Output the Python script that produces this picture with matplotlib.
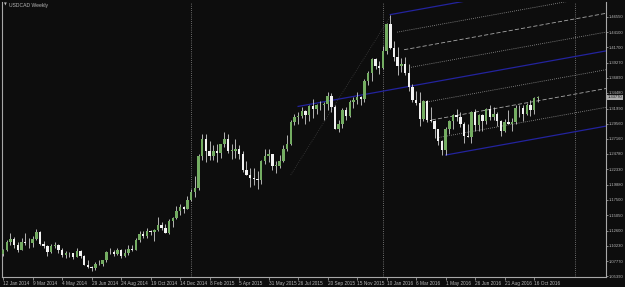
import numpy as np
import matplotlib
matplotlib.use("Agg")
import matplotlib.pyplot as plt
from matplotlib.transforms import blended_transform_factory

plt.rcParams['font.family'] = ['Liberation Sans', 'DejaVu Sans']

# USDCAD weekly candles, week 0 = 12 Jan 2014
first_open = 1.0890
closes = [1.0960, 1.1080, 1.1135, 1.1035, 1.0960, 1.1080, 1.1070, 1.1060, 1.1130, 1.1235,
          1.1045, 1.1020, 1.0920, 1.1020, 1.1030, 1.0950, 1.0870, 1.0900, 1.0900, 1.0850,
          1.0930, 1.0860, 1.0720, 1.0680, 1.0670, 1.0730, 1.0730, 1.0790, 1.0920, 1.0920,
          1.0890, 1.0950, 1.0860, 1.0900, 1.0970, 1.0960, 1.1110, 1.1210, 1.1180, 1.1260,
          1.1240, 1.1270, 1.1350, 1.1300, 1.1230, 1.1420, 1.1460, 1.1570, 1.1630, 1.1610,
          1.1750,
          1.1870, 1.1940, 1.2440, 1.2720, 1.2520, 1.2440, 1.2530, 1.2500, 1.2630, 1.2720,
          1.2530, 1.2530, 1.2560, 1.2480, 1.2220, 1.2150, 1.2090, 1.2080, 1.2060, 1.2370,
          1.2440, 1.2470, 1.2290, 1.2290, 1.2360, 1.2560, 1.2640, 1.2980, 1.3070, 1.3080,
          1.3160, 1.3100, 1.3240, 1.3190, 1.3250, 1.3250, 1.3270, 1.3400, 1.3230, 1.2880,
          1.2960, 1.3170, 1.3080, 1.3300, 1.3340, 1.3380, 1.3350, 1.3640, 1.3770, 1.3980,
          1.3870, 1.3840, 1.4120, 1.4540, 1.4160, 1.4010, 1.3870, 1.3900, 1.3770, 1.3540,
          1.3330, 1.3290, 1.3040, 1.3320, 1.3010, 1.3000, 1.2870, 1.2690, 1.2540, 1.2880,
          1.3000, 1.3100, 1.3070, 1.2960, 1.2770, 1.2750, 1.3140, 1.2930, 1.3090, 1.3000,
          1.3190, 1.3060, 1.3120, 1.3000, 1.2850, 1.2990, 1.2960, 1.2980, 1.3200, 1.3200,
          1.3120, 1.3260, 1.3170, 1.3360, 1.3377]
highs = [1.0970, 1.1120, 1.1225, 1.1160, 1.1080, 1.1150, 1.1225, 1.1145, 1.1180, 1.1280,
         1.1250, 1.1100, 1.1030, 1.1050, 1.1080, 1.1050, 1.0990, 1.0930, 1.0920, 1.0910,
         1.0990, 1.0960, 1.0880, 1.0790, 1.0700, 1.0760, 1.0800, 1.0800, 1.0930, 1.0990,
         1.0950, 1.0990, 1.0970, 1.0970, 1.1040, 1.1030, 1.1150, 1.1250, 1.1260, 1.1300,
         1.1270, 1.1290, 1.1470, 1.1400, 1.1360, 1.1440, 1.1470, 1.1650, 1.1680, 1.1650,
         1.1810,
         1.1920, 1.2130, 1.2480, 1.2800, 1.2800, 1.2690, 1.2620, 1.2630, 1.2640, 1.2830,
         1.2790, 1.2630, 1.2720, 1.2620, 1.2520, 1.2370, 1.2250, 1.2250, 1.2210, 1.2390,
         1.2560, 1.2560, 1.2480, 1.2370, 1.2460, 1.2620, 1.2780, 1.3010, 1.3120, 1.3140,
         1.3220, 1.3180, 1.3260, 1.3350, 1.3270, 1.3320, 1.3300, 1.3460, 1.3450, 1.3250,
         1.3020, 1.3200, 1.3230, 1.3330, 1.3380, 1.3460, 1.3400, 1.3660, 1.3800, 1.4000,
         1.4000, 1.3960, 1.4190, 1.4550, 1.4690, 1.4270, 1.4170, 1.4000, 1.4010, 1.3900,
         1.3590, 1.3470, 1.3460, 1.3340, 1.3330, 1.3220, 1.3020, 1.2880, 1.2700, 1.2910,
         1.3020, 1.3110, 1.3190, 1.3140, 1.2980, 1.2960, 1.3160, 1.3190, 1.3110, 1.3110,
         1.3210, 1.3250, 1.3230, 1.3150, 1.3010, 1.3030, 1.3180, 1.3050, 1.3250, 1.3250,
         1.3250, 1.3290, 1.3330, 1.3390, 1.3400]
lows = [1.0860, 1.0940, 1.1040, 1.0990, 1.0920, 1.0950, 1.1030, 1.0990, 1.1000, 1.1120,
        1.1030, 1.0990, 1.0860, 1.0900, 1.0990, 1.0910, 1.0850, 1.0820, 1.0850, 1.0810,
        1.0840, 1.0830, 1.0710, 1.0660, 1.0620, 1.0630, 1.0710, 1.0700, 1.0770, 1.0890,
        1.0860, 1.0880, 1.0830, 1.0840, 1.0880, 1.0930, 1.0950, 1.1080, 1.1140, 1.1150,
        1.1190, 1.1100, 1.1250, 1.1270, 1.1220, 1.1200, 1.1320, 1.1440, 1.1510, 1.1540,
        1.1600,
        1.1730, 1.1800, 1.1910, 1.2380, 1.2350, 1.2390, 1.2380, 1.2350, 1.2410, 1.2590,
        1.2490, 1.2400, 1.2420, 1.2400, 1.2190, 1.2140, 1.1950, 1.1990, 1.1920, 1.2000,
        1.2320, 1.2350, 1.2220, 1.2170, 1.2250, 1.2350, 1.2520, 1.2620, 1.2930, 1.2950,
        1.3050, 1.2950, 1.3000, 1.3050, 1.3110, 1.3170, 1.3020, 1.3170, 1.3140, 1.2870,
        1.2830, 1.2890, 1.3020, 1.3060, 1.3210, 1.3270, 1.3250, 1.3300, 1.3570, 1.3630,
        1.3830, 1.3750, 1.3830, 1.4060, 1.4140, 1.3960, 1.3730, 1.3780, 1.3730, 1.3470,
        1.3310, 1.3250, 1.2920, 1.3000, 1.2990, 1.2980, 1.2730, 1.2620, 1.2460, 1.2460,
        1.2790, 1.2870, 1.3000, 1.2900, 1.2650, 1.2740, 1.2650, 1.2840, 1.2850, 1.2850,
        1.2960, 1.3020, 1.3010, 1.2920, 1.2770, 1.2820, 1.2950, 1.2840, 1.2950, 1.3060,
        1.3000, 1.3090, 1.3080, 1.3110, 1.3310]
opens = [first_open] + closes[:-1]

date_ticks = [0, 8, 16, 24, 32, 40, 48, 56, 64, 72, 80, 88, 96, 104, 112, 120, 128, 136, 144]
date_labels = ['12 Jan 2014', '9 Mar 2014', '4 May 2014', '29 Jun 2014', '24 Aug 2014',
               '19 Oct 2014', '14 Dec 2014', '8 Feb 2015', '5 Apr 2015', '31 May 2015',
               '26 Jul 2015', '20 Sep 2015', '15 Nov 2015', '10 Jan 2016', '6 Mar 2016',
               '1 May 2016', '26 Jun 2016', '21 Aug 2016', '16 Oct 2016']
price_ticks = [1.46550, 1.44100, 1.41700, 1.39270, 1.36890, 1.34480, 1.31990, 1.29560,
               1.27160, 1.24780, 1.22330, 1.19880, 1.17500, 1.15050, 1.12600, 1.10230,
               1.07770, 1.05390]
year_breaks = [51, 103, 155]
bid = 1.33770

# channel drawn from the Jan 2016 high to the May 2016 low
chan_top = (105, 1.4690)
chan_bot = (120, 1.2461)
chan_slope = 0.001055
chan_levels = [0, 1/8, 2/8, 3/8, 4/8, 5/8, 6/8, 7/8, 1]
trend_pts = ([78, 105], [1.2144, 1.4660])

bg = '#0d0d0d'
fg = '#b8b8b8'
bull = '#74ad62'
bear = '#f2f2f2'

fig = plt.figure(figsize=(6.25, 2.87), dpi=100, facecolor=bg)
ax = fig.add_axes([2/625, 10/287, 604/625, 275/287], facecolor=bg)

x = np.arange(len(closes))
o = np.array(opens)
c = np.array(closes)
h = np.array(highs)
l = np.array(lows)
up = c >= o

# year separators
for yb in year_breaks:
    ax.axvline(yb, color='#8c8c8c', lw=0.6, ls=(0, (1, 1.6)), zorder=1)

# channel lines
x_end = 163.5
for f in chan_levels:
    x0 = chan_top[0] + f * (chan_bot[0] - chan_top[0])
    if f == 0.5:
        x0 = 80
    xs = np.array([x0, x_end])
    ptop = chan_top[1] + chan_slope * (xs - chan_top[0])
    pbot = chan_bot[1] + chan_slope * (xs - chan_bot[0])
    ys = ptop + f * (pbot - ptop)
    if f in (0, 0.5, 1):
        ax.plot(xs, ys, color='#23239e', lw=0.9, zorder=2)
    elif f in (2/8, 6/8):
        ax.plot(xs, ys, color='#a8a8a8', lw=0.6, ls=(0, (5, 2.5)), zorder=2)
    else:
        ax.plot(xs, ys, color='#9a9a9a', lw=0.6, ls=(0, (1, 1.5)), zorder=2)

ax.plot(trend_pts[0], trend_pts[1], color='#3c3c3c', lw=0.6, ls=(0, (1, 1.5)), zorder=2)

# candles
ax.vlines(x, l, h, colors='#cfcfcf', lw=0.6, zorder=3)
body_h = np.maximum(np.abs(c - o), 0.0007)
ax.bar(x, body_h, bottom=np.minimum(o, c), width=0.66,
       color=np.where(up, bull, bear), linewidth=0, zorder=4)

ax.set_xlim(-0.3, 163.5)
ax.set_ylim(1.0525, 1.489)

ax.set_xticks(date_ticks)
ax.set_xticklabels(date_labels)
for lab in ax.get_xticklabels():
    lab.set_horizontalalignment('left')
ax.yaxis.tick_right()
ax.set_yticks(price_ticks)
ax.set_yticklabels(['%.5f' % p for p in price_ticks])
ax.tick_params(axis='x', colors=fg, labelsize=3.4, length=2, width=0.5, pad=1)
ax.tick_params(axis='y', colors=fg, labelsize=3.0, length=1.5, width=0.5, pad=0.8)

for side in ['left', 'right', 'bottom']:
    ax.spines[side].set_color('#a8a8a8')
    ax.spines[side].set_linewidth(0.8)
ax.spines['top'].set_visible(False)

tr = blended_transform_factory(ax.transAxes, ax.transData)
ax.text(1.003, bid, '%.5f' % bid, transform=tr, fontsize=3.0, color='#111111',
        va='center', ha='left', zorder=6, clip_on=False,
        bbox=dict(boxstyle='square,pad=0.12', fc='#a9a9a9', ec='none'))

fig.text(4/625, 1 - 5/287, '\u25bc', fontsize=2.6, color=fg, va='center', ha='left',
         family='DejaVu Sans')
fig.text(9/625, 1 - 5/287, 'USDCAD Weekly', fontsize=3.6, color=fg, va='center', ha='left')

fig.savefig('out.png', dpi=100, facecolor=bg)
